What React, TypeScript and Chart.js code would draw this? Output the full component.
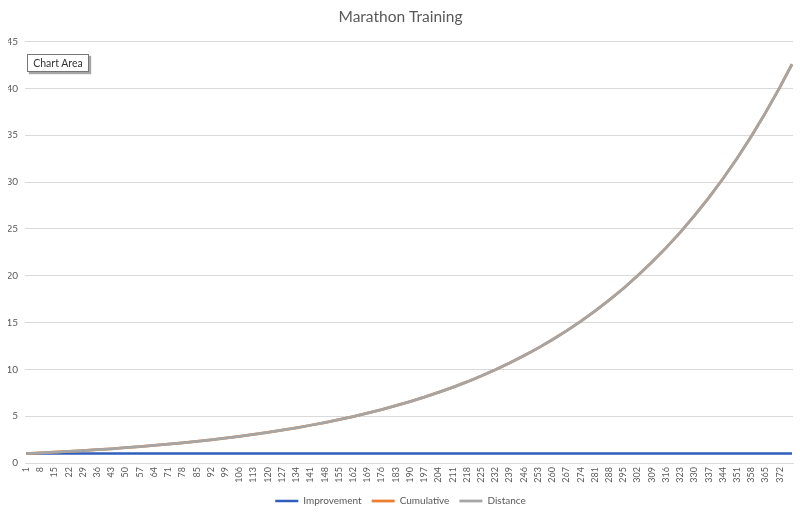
import React, { useEffect, useRef } from 'react';
import { Chart, registerables } from 'chart.js';

Chart.register(...registerables);

const chartTitle = 'Marathon Training';
const seriesNames = ['Improvement', 'Cumulative', 'Distance'];
const seriesColors = ['#2f5ebd', '#ed7d31', '#a5a5a5'];
const dayCount = 378;
const days = Array.from({ length: dayCount }, (_, i) => String(i + 1));
const tickDays = [
  1, 8, 15, 22, 29, 36, 43, 50, 57, 64, 71, 78, 85, 92, 99, 106, 113, 120, 127, 134,
  141, 148, 155, 162, 169, 176, 183, 190, 197, 204, 211, 218, 225, 232, 239, 246, 253,
  260, 267, 274, 281, 288, 295, 302, 309, 316, 323, 330, 337, 344, 351, 358, 365, 372,
];
const sampleDays = [...tickDays, 378];
const improvement = [
  1.01, 1.01, 1.01, 1.01, 1.01, 1.01, 1.01, 1.01, 1.01, 1.01, 1.01, 1.01, 1.01, 1.01,
  1.01, 1.01, 1.01, 1.01, 1.01, 1.01, 1.01, 1.01, 1.01, 1.01, 1.01, 1.01, 1.01, 1.01,
  1.01, 1.01, 1.01, 1.01, 1.01, 1.01, 1.01, 1.01, 1.01, 1.01, 1.01, 1.01, 1.01, 1.01,
  1.01, 1.01, 1.01, 1.01, 1.01, 1.01, 1.01, 1.01, 1.01, 1.01, 1.01, 1.01, 1.01,
];
const cumulative = [
  1.0, 1.07, 1.15, 1.23, 1.32, 1.42, 1.52, 1.63, 1.75, 1.87, 2.01, 2.15, 2.31, 2.47,
  2.65, 2.84, 3.05, 3.27, 3.5, 3.76, 4.03, 4.32, 4.63, 4.96, 5.32, 5.7, 6.12, 6.56,
  7.03, 7.54, 8.08, 8.66, 9.29, 9.96, 10.68, 11.45, 12.27, 13.16, 14.11, 15.13, 16.22,
  17.39, 18.64, 19.99, 21.43, 22.97, 24.63, 26.41, 28.31, 30.36, 32.54, 34.89, 37.41,
  40.11, 42.58,
];
const distance = [
  1.0, 1.07, 1.15, 1.23, 1.32, 1.42, 1.52, 1.63, 1.75, 1.87, 2.01, 2.15, 2.31, 2.47,
  2.65, 2.84, 3.05, 3.27, 3.5, 3.76, 4.03, 4.32, 4.63, 4.96, 5.32, 5.7, 6.12, 6.56,
  7.03, 7.54, 8.08, 8.66, 9.29, 9.96, 10.68, 11.45, 12.27, 13.16, 14.11, 15.13, 16.22,
  17.39, 18.64, 19.99, 21.43, 22.97, 24.63, 26.41, 28.31, 30.36, 32.54, 34.89, 37.41,
  40.11, 42.58,
];
const yTicks = [0, 5, 10, 15, 20, 25, 30, 35, 40, 45];

const FONT = 'Lato, "Open Sans", sans-serif';
const TEXT = '#595959';

export default function App() {
  const canvasRef = useRef<HTMLCanvasElement | null>(null);

  useEffect(() => {
    const canvas = canvasRef.current;
    if (!canvas) return;
    const series = [improvement, cumulative, distance];
    const widths = [2.5, 2.75, 2.75];
    const chart = new Chart(canvas, {
      type: 'line',
      data: {
        labels: days,
        datasets: series.map((vals, s) => ({
          label: seriesNames[s],
          data: sampleDays.map((d, i) => ({ x: String(d), y: vals[i] })),
          borderColor: seriesColors[s],
          backgroundColor: seriesColors[s],
          borderWidth: widths[s],
          pointRadius: 0,
          pointHoverRadius: 0,
          tension: 0,
          order: 3 - s,
        })),
      },
      options: {
        responsive: false,
        animation: false,
        events: [],
        layout: { padding: { left: 8, right: 7, top: 0, bottom: 0 } },
        plugins: {
          title: {
            display: true,
            text: chartTitle,
            color: TEXT,
            font: { family: FONT, size: 15.5, weight: 'normal' },
            padding: { top: 8, bottom: 15 },
          },
          legend: {
            position: 'bottom',
            labels: {
              color: TEXT,
              font: { family: FONT, size: 10 },
              usePointStyle: true,
              pointStyle: 'line',
              pointStyleWidth: 23,
              padding: 10,
              sort: (a: any, b: any) => a.datasetIndex - b.datasetIndex,
            },
          },
          tooltip: { enabled: false },
        },
        scales: {
          x: {
            type: 'category',
            offset: true,
            grid: { display: false, drawTicks: false },
            border: { display: true, color: '#d9d9d9', width: 1 },
            ticks: {
              autoSkip: false,
              minRotation: 90,
              maxRotation: 90,
              color: TEXT,
              font: { family: FONT, size: 9 },
              padding: 4,
              callback: (_v: any, index: number) => {
                const lbl = days[index];
                return tickDays.includes(Number(lbl)) ? lbl : null;
              },
            },
            afterFit: (scale: any) => {
              scale.height = 23;
            },
          },
          y: {
            min: 0,
            max: 45,
            grid: { color: '#d9d9d9', lineWidth: 1, drawTicks: false },
            border: { display: false },
            afterBuildTicks: (scale: any) => {
              scale.ticks = yTicks.map((v) => ({ value: v }));
            },
            ticks: {
              color: TEXT,
              font: { family: FONT, size: 10 },
              padding: 7,
            },
            afterFit: (scale: any) => {
              scale.width = 17;
            },
          },
        },
      },
    });
    return () => chart.destroy();
  }, []);

  return (
    <div
      style={{
        position: 'fixed',
        left: 0,
        top: 0,
        width: 800,
        height: 516,
        background: '#ffffff',
        overflow: 'hidden',
      }}
    >
      <canvas ref={canvasRef} width={800} height={516} style={{ display: 'block' }} />
      <div
        style={{
          position: 'absolute',
          left: 27,
          top: 54,
          width: 60,
          height: 16,
          background: '#ffffff',
          border: '1px solid #767676',
          boxShadow: '2px 2px 1px rgba(0,0,0,0.35)',
          font: '10.5px ' + FONT,
          color: '#333333',
          lineHeight: '16px',
          textAlign: 'center',
          whiteSpace: 'nowrap',
        }}
      >
        Chart Area
      </div>
    </div>
  );
}
